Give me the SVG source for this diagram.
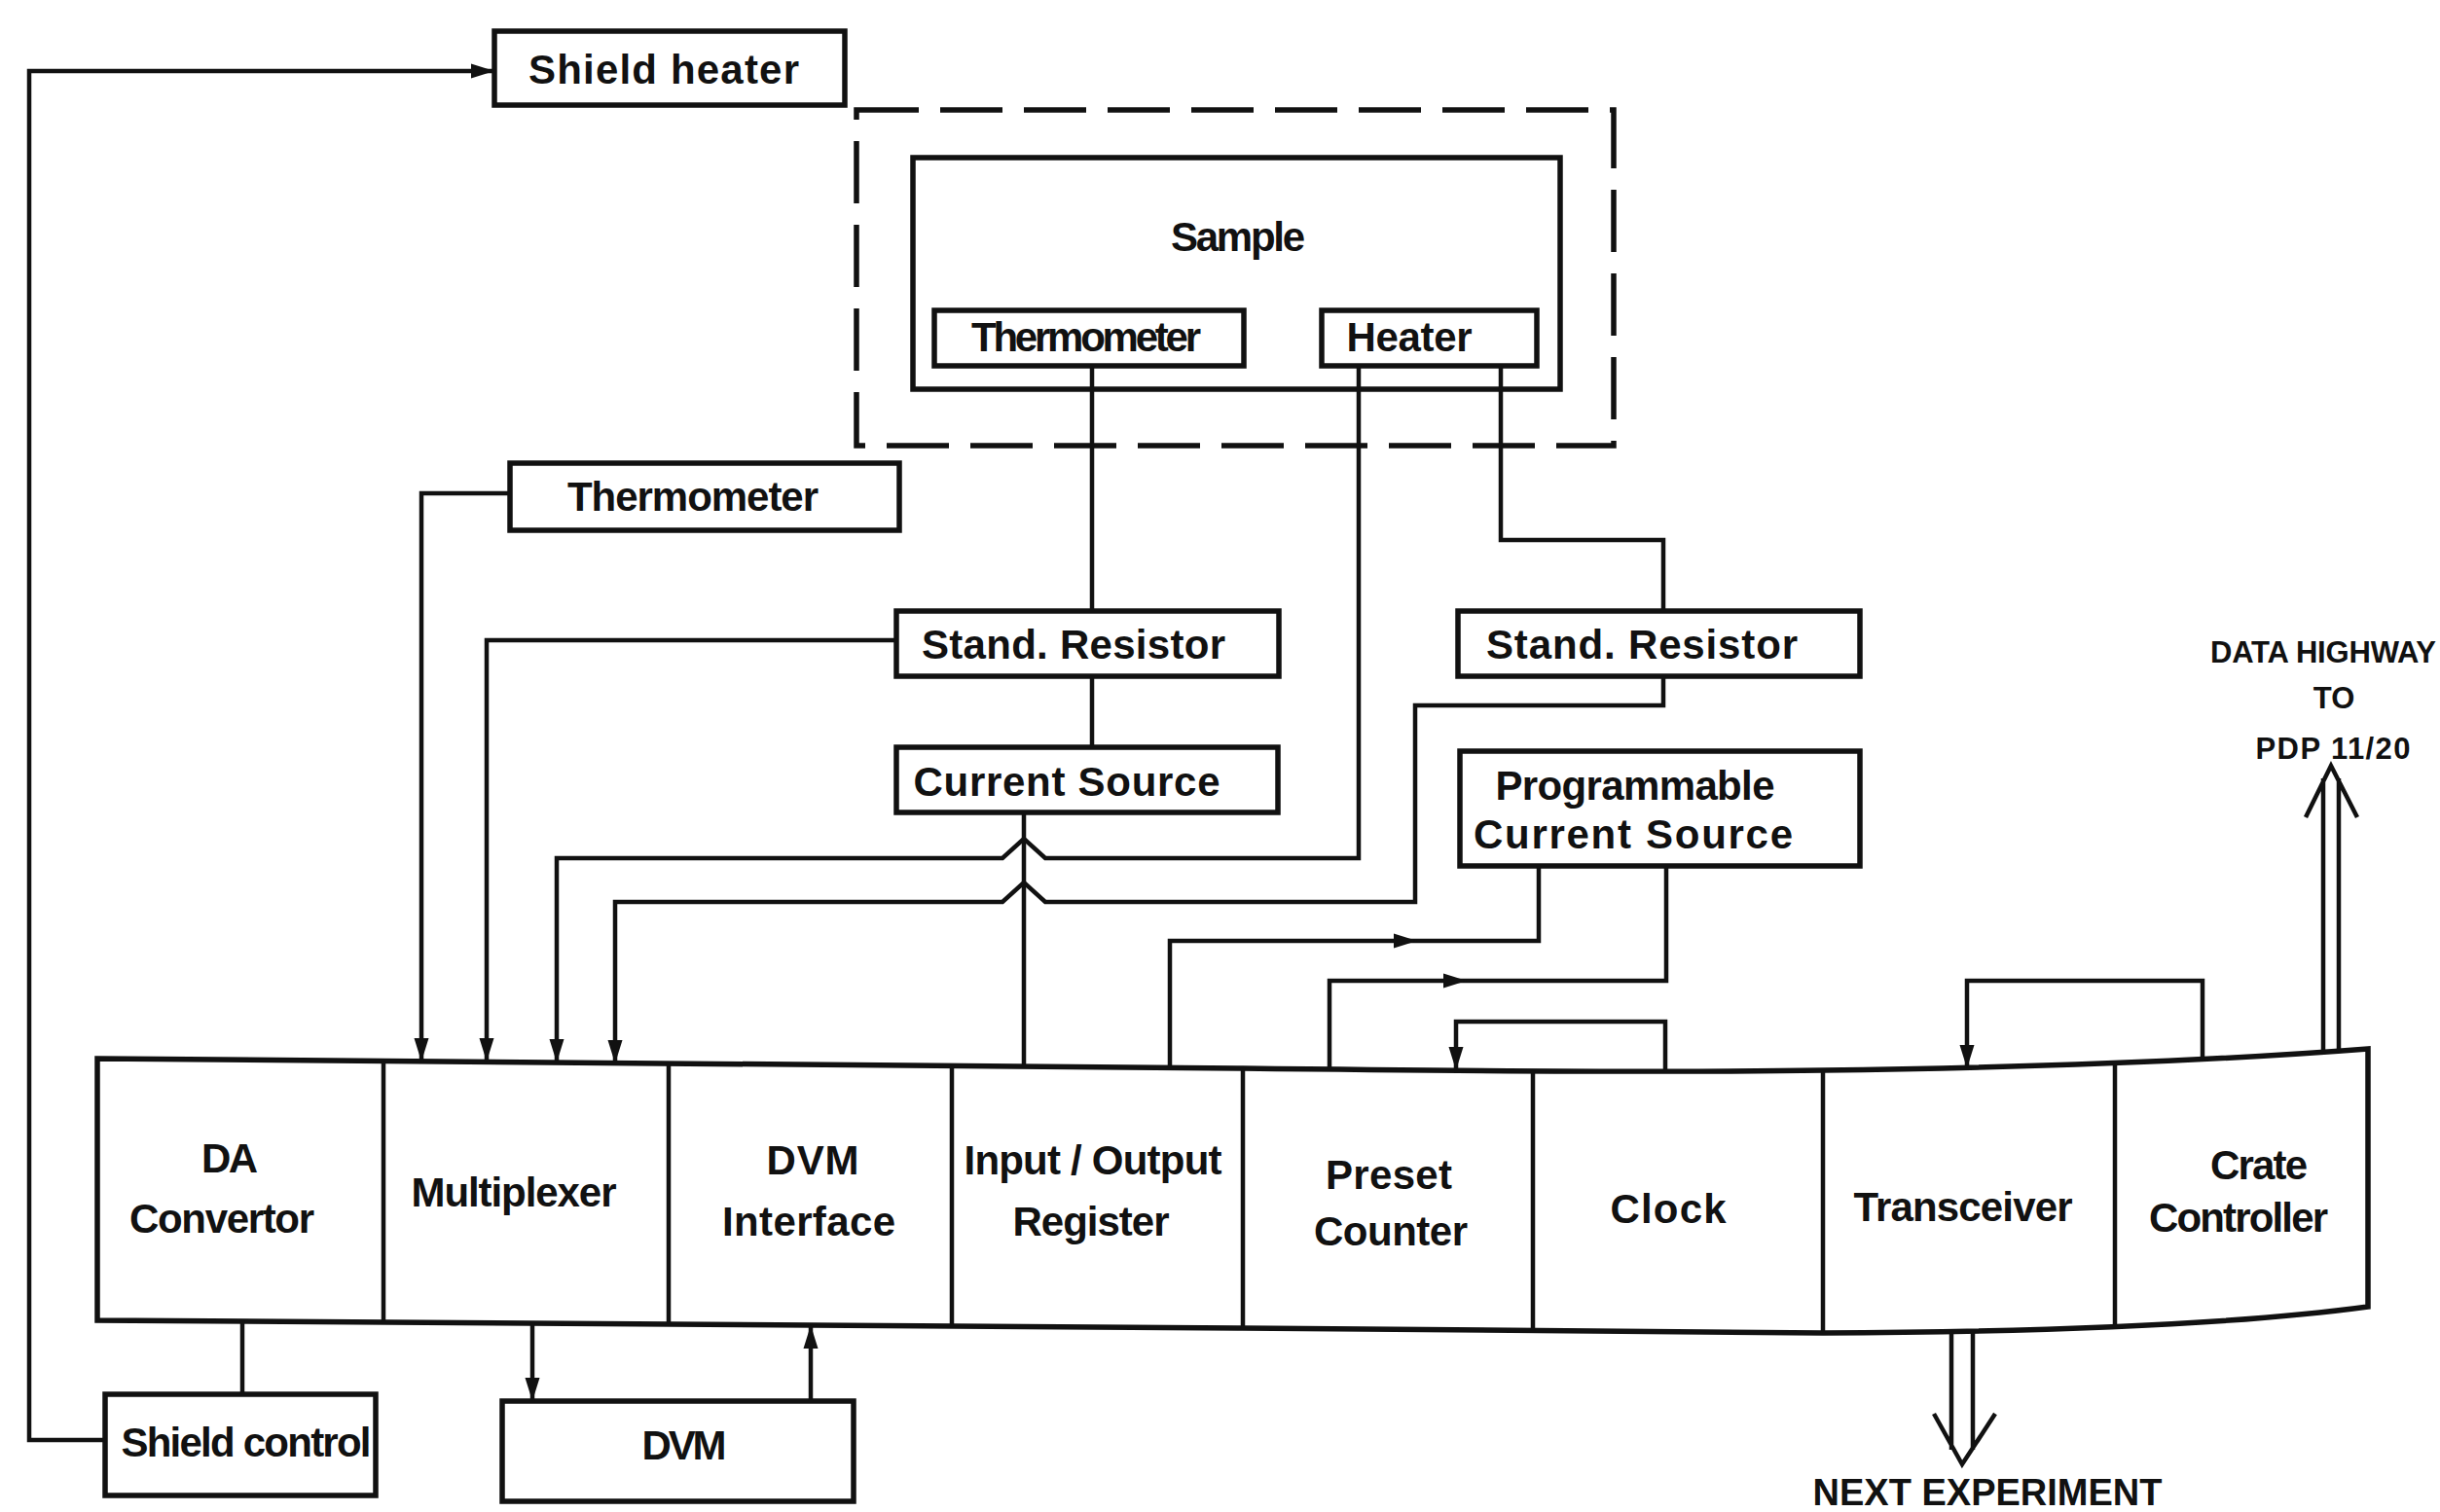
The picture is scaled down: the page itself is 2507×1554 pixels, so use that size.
<svg xmlns="http://www.w3.org/2000/svg" xmlns:xlink="http://www.w3.org/1999/xlink" width="2507" height="1554" viewBox="0 0 2507 1554">
<style>
.box{fill:none;stroke:#111;stroke-width:5.5}
.dash{fill:none;stroke:#111;stroke-width:5.5;stroke-dasharray:64 22}
.ln{fill:none;stroke:#111;stroke-width:4.5;stroke-linejoin:miter}
.t{font-family:"Liberation Sans",Arial,sans-serif;font-weight:bold;font-size:42px;fill:#111;text-anchor:middle}
.s{font-size:31px}
</style>
<defs>
<path id="ah" d="M0,0 L-24,-7.5 L-24,7.5 Z" fill="#111"/>
</defs>
<rect width="2507" height="1554" fill="#fff"/>

<g id="rack">
<path class="box" d="M100,1088 L1277,1098 Q1700,1103 1873,1100 Q2200,1096 2433,1078 L2433,1343 Q2250,1368 1873,1370 L1277,1365 L100,1357 Z"/>
<path class="ln" d="M394,1090.5 V1359 M687,1093 V1361 M978,1095.5 V1363 M1277,1098 V1365 M1575,1100.5 V1367.5 M1873,1100 V1370 M2173,1093 V1363"/>
</g>
<g id="da-convertor"><text class="t" x="236" y="1205" textLength="58">DA</text><text class="t" x="228" y="1267" textLength="190">Convertor</text></g>
<g id="multiplexer"><text class="t" x="528" y="1240" textLength="211">Multiplexer</text></g>
<g id="dvm-interface"><text class="t" x="835" y="1207" textLength="95">DVM</text><text class="t" x="831" y="1270" textLength="178">Interface</text></g>
<g id="io-register"><text class="t" x="1123" y="1207" textLength="265">Input / Output</text><text class="t" x="1121" y="1270" textLength="161">Register</text></g>
<g id="preset-counter"><text class="t" x="1427" y="1222" textLength="130">Preset</text><text class="t" x="1429" y="1280" textLength="158">Counter</text></g>
<g id="clock"><text class="t" x="1714" y="1257" textLength="119">Clock</text></g>
<g id="transceiver"><text class="t" x="2017" y="1255" textLength="225">Transceiver</text></g>
<g id="crate-controller"><text class="t" x="2321" y="1212" textLength="100">Crate</text><text class="t" x="2300" y="1266" textLength="184">Controller</text></g>

<g id="shield-heater"><rect class="box" x="508" y="32" width="360" height="76"/><text class="t" x="682" y="86" textLength="278">Shield heater</text></g>
<g id="cryostat"><rect class="dash" x="880" y="113" width="778" height="345"/></g>
<g id="sample"><rect class="box" x="938" y="162" width="665" height="238"/><text class="t" x="1272" y="258" textLength="138">Sample</text></g>
<g id="sample-thermometer"><rect class="box" x="960" y="319" width="318" height="57"/><text class="t" x="1116" y="361" textLength="236">Thermometer</text></g>
<g id="sample-heater"><rect class="box" x="1358" y="319" width="221" height="57"/><text class="t" x="1448" y="361" textLength="129">Heater</text></g>
<g id="thermometer"><rect class="box" x="524" y="476" width="400" height="69"/><text class="t" x="712" y="525" textLength="258">Thermometer</text></g>
<g id="stand-resistor-1"><rect class="box" x="921" y="628" width="393" height="67"/><text class="t" x="1103" y="677" textLength="312">Stand. Resistor</text></g>
<g id="current-source"><rect class="box" x="921" y="768" width="392" height="67"/><text class="t" x="1096" y="818" textLength="315">Current Source</text></g>
<g id="stand-resistor-2"><rect class="box" x="1498" y="628" width="413" height="67"/><text class="t" x="1687" y="677" textLength="320">Stand. Resistor</text></g>
<g id="prog-current-source"><rect class="box" x="1500" y="772" width="411" height="118"/><text class="t" x="1680" y="822" textLength="287">Programmable</text><text class="t" x="1678" y="872" textLength="328">Current Source</text></g>
<g id="shield-control"><rect class="box" x="108" y="1433" width="278" height="104"/><text class="t" x="253" y="1497" textLength="257">Shield control</text></g>
<g id="dvm"><rect class="box" x="516" y="1440" width="361" height="103"/><text class="t" x="703" y="1500" textLength="87">DVM</text></g>
<g id="data-highway-label"><text class="t s" x="2387" y="681" textLength="232">DATA HIGHWAY</text><text class="t s" x="2398" y="728">TO</text><text class="t s" x="2397" y="780" textLength="159">PDP 11/20</text></g>
<g id="next-experiment-label"><text class="t" style="font-size:38px" x="2042" y="1547" textLength="359">NEXT EXPERIMENT</text></g>

<g id="connectors">
<path class="ln" d="M108,1480 H30 V73 H508"/>
<use xlink:href="#ah" transform="translate(508,73)"/>
<path class="ln" d="M249,1357 V1433"/>
<path class="ln" d="M547,1359 V1440"/>
<use xlink:href="#ah" transform="translate(547,1440) rotate(90)"/>
<path class="ln" d="M833,1440 V1362"/>
<use xlink:href="#ah" transform="translate(833,1362) rotate(-90)"/>
<path class="ln" d="M524,507 H433 V1091"/>
<use xlink:href="#ah" transform="translate(433,1091) rotate(90)"/>
<path class="ln" d="M921,658 H500 V1091"/>
<use xlink:href="#ah" transform="translate(500,1091) rotate(90)"/>
<path class="ln" d="M1396,376 V882 H1074 L1052,862 L1030,882 H572 V1092"/>
<use xlink:href="#ah" transform="translate(572,1092) rotate(90)"/>
<path class="ln" d="M1709,695 V725 H1454 V927 H1074 L1052,907 L1030,927 H632 V1093"/>
<use xlink:href="#ah" transform="translate(632,1093) rotate(90)"/>
<path class="ln" d="M1542,376 V555 H1709 V628"/>
<path class="ln" d="M1122,376 V628 M1122,695 V768"/>
<path class="ln" d="M1052,835 V1096"/>
<path class="ln" d="M1202,1097 V967 H1581 V890"/>
<use xlink:href="#ah" transform="translate(1456,967)"/>
<path class="ln" d="M1366,1099 V1008 H1712 V890"/>
<use xlink:href="#ah" transform="translate(1507,1008)"/>
<path class="ln" d="M1711,1101 V1050 H1496 V1100"/>
<use xlink:href="#ah" transform="translate(1496,1100) rotate(90)"/>
<path class="ln" d="M2263,1090 V1008 H2021 V1098"/>
<use xlink:href="#ah" transform="translate(2021,1098) rotate(90)"/>
<path class="ln" d="M2387,1081 V800 M2403,1080 V800 M2369,840 L2395,787 L2422,840"/>
<path class="ln" d="M2005,1370 V1490 M2027,1369 V1490 M1987,1453 L2016,1505 L2050,1453"/>
</g>
</svg>
